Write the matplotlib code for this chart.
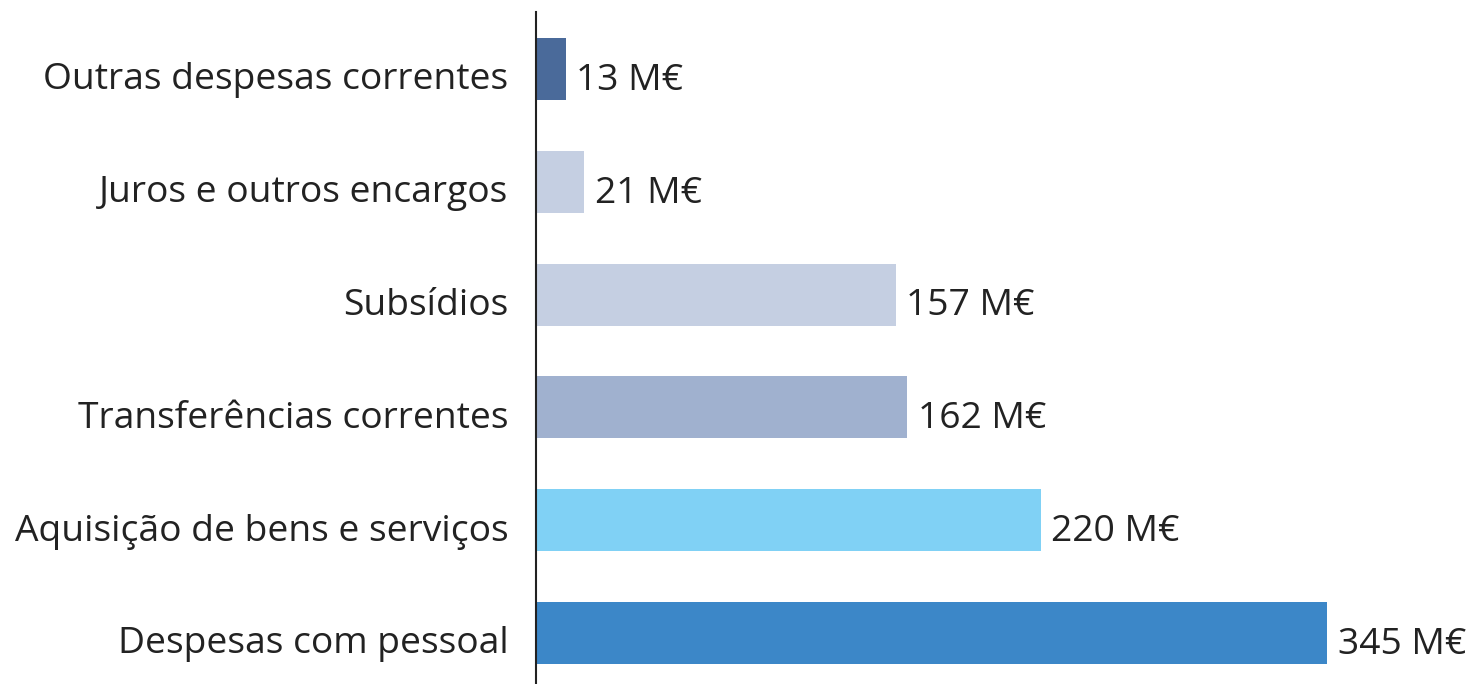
import matplotlib
matplotlib.use('Agg')
import matplotlib.pyplot as plt
import matplotlib.transforms as mtransforms

categories = ['Despesas com pessoal', 'Aquisição de bens e serviços',
              'Transferências correntes', 'Subsídios',
              'Juros e outros encargos', 'Outras despesas correntes']
values = [345, 220, 162, 157, 21, 13]
colors = ['#3c87c8', '#80d1f5', '#a0b1cf', '#c5cfe2', '#c5cfe2', '#4a6a9a']

TEXT = '#222222'
FS = 26.8
plt.rcParams['font.family'] = ['Open Sans', 'DejaVu Sans']

fig = plt.figure(figsize=(14.73, 6.84), dpi=100)
ax = fig.add_axes([536 / 1473, 0, 1 - 536 / 1473, 1 - 12 / 684])

ypos = list(range(len(categories)))
ax.barh(ypos, values, height=0.55, color=colors)

for y, v in zip(ypos, values):
    ax.annotate(f'{v} M€', (v, y), xytext=(7.5, -15), textcoords='offset points',
                ha='left', va='baseline', fontsize=FS, color=TEXT)

ax.set_xlim(0, 408.6)
ax.set_ylim(-0.452, 5.505)
ax.set_yticks(ypos)
ax.set_yticklabels(categories, fontsize=FS, color=TEXT)
ax.tick_params(axis='y', length=0, pad=20)
ax.set_xticks([])

for side in ['top', 'right', 'bottom']:
    ax.spines[side].set_visible(False)
ax.spines['left'].set_color(TEXT)
ax.spines['left'].set_linewidth(1.5)

# shift tick labels down a little so they line up with the value labels
offset = mtransforms.ScaledTranslation(0, -5 / 72, fig.dpi_scale_trans)
for lbl in ax.get_yticklabels():
    lbl.set_transform(lbl.get_transform() + offset)

fig.savefig('out.png', dpi=100)
